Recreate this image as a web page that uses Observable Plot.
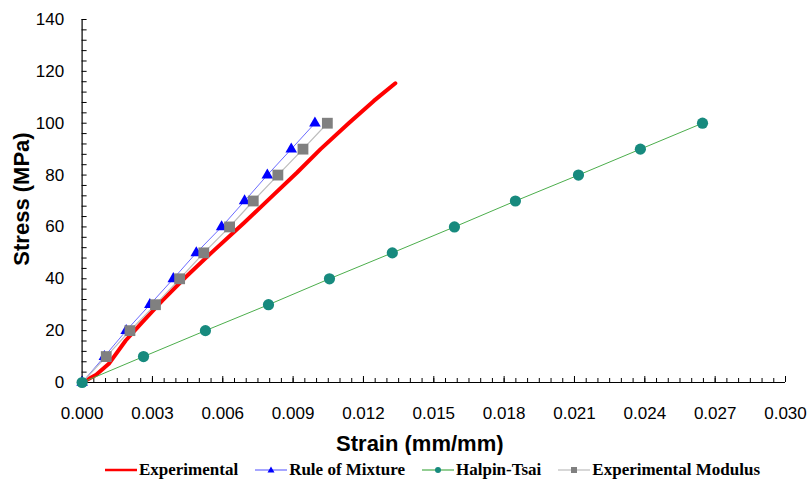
<!DOCTYPE html>
<html><head><meta charset="utf-8">
<script src="https://cdn.jsdelivr.net/npm/d3@7"></script>
<script src="https://cdn.jsdelivr.net/npm/@observablehq/plot@0.6"></script>
<style>
body{margin:0;background:#fff;}
#wrap{position:relative;width:808px;height:480px;overflow:hidden;}
#legend{position:absolute;left:57px;top:458px;width:751px;height:24px;display:flex;justify-content:center;align-items:center;gap:17px;font-family:"Liberation Serif","Times New Roman",serif;font-weight:bold;font-size:17px;color:#000;}
.item{display:flex;align-items:center;gap:2px;white-space:nowrap;}
.item svg{display:block;}
</style></head><body><div id="wrap"><div id="chart"></div><div id="legend"></div></div>
<script>
// ---- data ----
const stressLevels = [0, 10, 20, 30, 40, 50, 60, 70, 80, 90, 100];
const ruleOfMixtureStrain = [0, 0.00095, 0.00188, 0.00289, 0.00389, 0.00487, 0.00595, 0.00693, 0.0079, 0.00892, 0.00993];
const halpinTsaiStrain = [0, 0.00262, 0.00526, 0.00795, 0.01055, 0.01323, 0.01588, 0.01848, 0.02117, 0.02381, 0.02646];
const expModulusStrain = [0, 0.00103, 0.00204, 0.00313, 0.00416, 0.00519, 0.00629, 0.0073, 0.00835, 0.00942, 0.01046];
const experimentalStrain = [0, 0.0006, 0.00114, 0.00186, 0.00257, 0.00342, 0.00441, 0.00551, 0.0069, 0.00803, 0.00917, 0.01017, 0.01137, 0.01244, 0.01336];
const experimentalStress = [0, 3.0, 7.2, 16.2, 23.3, 31.6, 40.6, 50.0, 61.5, 71.2, 81.0, 90.0, 100.0, 108.6, 115.4];
const xTickValues = [0, 0.003, 0.006, 0.009, 0.012, 0.015, 0.018, 0.021, 0.024, 0.027, 0.030];
const yTickValues = [0, 20, 40, 60, 80, 100, 120, 140];
const seriesNames = ["Experimental", "Rule of Mixture", "Halpin-Tsai", "Experimental Modulus"];
const xLabel = "Strain (mm/mm)";
const yLabel = "Stress (MPa)";

// ---- tables ----
const expData = experimentalStrain.map((s, i) => ({strain: s, stress: experimentalStress[i]}));
const romData = stressLevels.map((y, i) => ({strain: ruleOfMixtureStrain[i], stress: y}));
const htData = stressLevels.map((y, i) => ({strain: halpinTsaiStrain[i], stress: y}));
const emData = stressLevels.map((y, i) => ({strain: expModulusStrain[i], stress: y}));
const xMinor = d3.range(0, 0.0300001, 0.0005);
const yMinor = d3.range(0, 140.001, 4);

const W = 808, H = 455, mL = 81.6, mR = 23, mT = 19, mB = 73;
const fw = W - mL - mR, fh = H - mT - mB;

const C = {red: "#ff0000", blueLine: "#6b6bff", blue: "#0000ff", green: "#4cae4c", teal: "#178a7e", grayLine: "#bdbdbd", gray: "#808080"};

const chart = Plot.plot({
  width: W, height: H,
  marginLeft: mL, marginRight: mR, marginTop: mT, marginBottom: mB,
  style: {fontFamily: "'Liberation Sans', Arial, sans-serif", fontSize: "17px", color: "#000", background: "#fff"},
  x: {domain: [0, 0.030]},
  y: {domain: [0, 140]},
  marks: [
    Plot.tickX(xMinor, {x: d => d, insetTop: fh - 4, stroke: "#000", strokeWidth: 1}),
    Plot.tickX(xTickValues, {x: d => d, insetTop: fh - 6, stroke: "#000", strokeWidth: 1}),
    Plot.tickY(yMinor, {y: d => d, insetRight: fw - 5, stroke: "#000", strokeWidth: 1}),
    Plot.ruleY([0], {stroke: "#000", strokeWidth: 1.2}),
    Plot.ruleX([0], {stroke: "#000", strokeWidth: 1.2}),
    Plot.axisX({ticks: xTickValues, tickSize: 0, tickPadding: 24, tickFormat: d3.format(".3f"), label: null, fontSize: 17}),
    Plot.axisY({ticks: yTickValues, tickSize: 0, tickPadding: 18, tickFormat: d3.format("d"), label: null, fontSize: 17}),
    Plot.text([xLabel], {text: d => d, frameAnchor: "bottom", lineAnchor: "middle", textAnchor: "middle", dy: 61, dx: -14, fontSize: 22, fontWeight: "bold"}),
    Plot.text([yLabel], {text: d => d, frameAnchor: "left", lineAnchor: "middle", textAnchor: "middle", dx: -60.6, dy: -2, rotate: -90, fontSize: 22, fontWeight: "bold"}),
    Plot.line(expData, {x: "strain", y: "stress", stroke: C.red, strokeWidth: 4, strokeLinejoin: "round"}),
    Plot.line(romData, {x: "strain", y: "stress", stroke: C.blueLine, strokeWidth: 1}),
    Plot.dot(romData, {x: "strain", y: "stress", symbol: "triangle", r: 4.3, fill: C.blue}),
    Plot.line(emData, {x: "strain", y: "stress", stroke: C.grayLine, strokeWidth: 1.2}),
    Plot.dot(emData.filter(d => d.stress > 0), {x: "strain", y: "stress", symbol: "square", r: 6.1, fill: C.gray}),
    Plot.line(htData, {x: "strain", y: "stress", stroke: C.green, strokeWidth: 1}),
    Plot.dot(htData, {x: "strain", y: "stress", r: 5.6, fill: C.teal})
  ]
});
document.getElementById("chart").appendChild(chart);

// ---- legend ----
const swatches = [
  `<line x1="0" y1="6" x2="32" y2="6" stroke="${C.red}" stroke-width="2.5"/>`,
  `<line x1="0" y1="6" x2="32" y2="6" stroke="${C.blueLine}" stroke-width="1.2"/><polygon points="16,2.5 19.5,8.5 12.5,8.5" fill="${C.blue}"/>`,
  `<line x1="0" y1="6" x2="32" y2="6" stroke="${C.green}" stroke-width="1.2"/><circle cx="16" cy="6" r="3" fill="${C.teal}"/>`,
  `<line x1="0" y1="6" x2="32" y2="6" stroke="${C.grayLine}" stroke-width="1.2"/><rect x="13" y="3" width="6" height="6" fill="${C.gray}"/>`
];
const legend = document.getElementById("legend");
seriesNames.forEach((name, i) => {
  const it = document.createElement("div");
  it.className = "item";
  it.innerHTML = `<svg width="32" height="12">${swatches[i]}</svg><span>${name}</span>`;
  legend.appendChild(it);
});
</script></body></html>
